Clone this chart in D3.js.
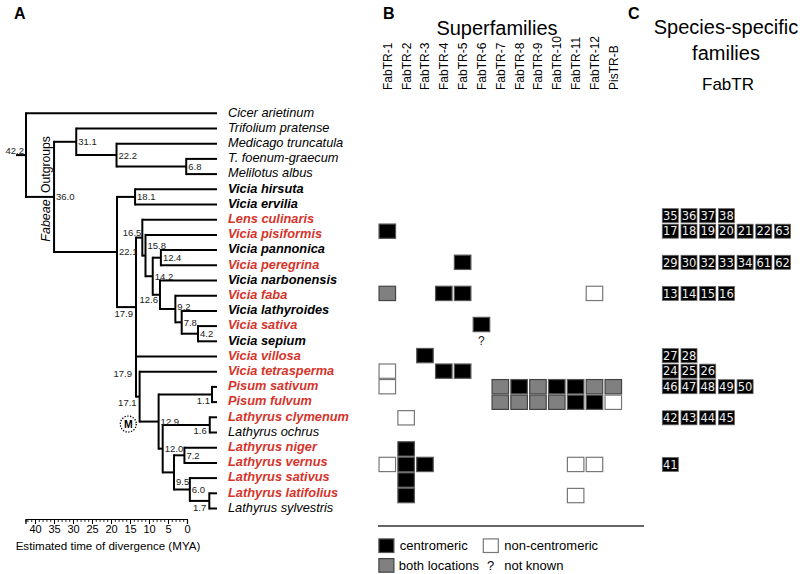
<!DOCTYPE html>
<html><head><meta charset="utf-8">
<script src="https://cdn.jsdelivr.net/npm/d3@7"></script>
<style>body{margin:0;background:#fff} svg{font-family:"Liberation Sans",Arial,sans-serif}</style>
</head><body><svg id="c" width="800" height="574"></svg>
<script>
// ---------------- DATA ----------------
const species = ["Cicer arietinum","Trifolium pratense","Medicago truncatula","T. foenum-graecum","Melilotus albus",
 "Vicia hirsuta","Vicia ervilia","Lens culinaris","Vicia pisiformis","Vicia pannonica","Vicia peregrina",
 "Vicia narbonensis","Vicia faba","Vicia lathyroides","Vicia sativa","Vicia sepium","Vicia villosa",
 "Vicia tetrasperma","Pisum sativum","Pisum fulvum","Lathyrus clymenum","Lathyrus ochrus","Lathyrus niger",
 "Lathyrus vernus","Lathyrus sativus","Lathyrus latifolius","Lathyrus sylvestris"];
const studiedSpecies = ["Lens culinaris","Vicia pisiformis","Vicia peregrina","Vicia faba","Vicia sativa","Vicia villosa",
 "Vicia tetrasperma","Pisum sativum","Pisum fulvum","Lathyrus clymenum","Lathyrus niger","Lathyrus vernus",
 "Lathyrus sativus","Lathyrus latifolius"];
const plainSpecies = ["Cicer arietinum","Trifolium pratense","Medicago truncatula","T. foenum-graecum","Melilotus albus",
 "Lathyrus ochrus","Lathyrus sylvestris"];
// internal nodes: [id, age (MYA), children]
const treeNodes = [
 ["n42.2",42.2,["Cicer arietinum","n36.0"]],
 ["n36.0",36.0,["n31.1","n22.1"]],
 ["n31.1",31.1,["Trifolium pratense","n22.2"]],
 ["n22.2",22.2,["Medicago truncatula","n6.8"]],
 ["n6.8",6.8,["T. foenum-graecum","Melilotus albus"]],
 ["n22.1",22.1,["n18.1","n17.9a"]],
 ["n18.1",18.1,["Vicia hirsuta","Vicia ervilia"]],
 ["n17.9a",17.9,["n16.5","n17.9b"]],
 ["n16.5",16.5,["Lens culinaris","n15.8"]],
 ["n15.8",15.8,["Vicia pisiformis","n14.2"]],
 ["n14.2",14.2,["n12.4","n12.6"]],
 ["n12.4",12.4,["Vicia pannonica","Vicia peregrina"]],
 ["n12.6",12.6,["Vicia narbonensis","n9.2"]],
 ["n9.2",9.2,["Vicia faba","n7.8"]],
 ["n7.8",7.8,["Vicia lathyroides","n4.2"]],
 ["n4.2",4.2,["Vicia sativa","Vicia sepium"]],
 ["n17.9b",17.9,["Vicia villosa","n17.1"]],
 ["n17.1",17.1,["Vicia tetrasperma","n12.9"]],
 ["n12.9",12.9,["n1.1","n12.0"]],
 ["n1.1",1.1,["Pisum sativum","Pisum fulvum"]],
 ["n12.0",12.0,["n1.6","n9.5"]],
 ["n1.6",1.6,["Lathyrus clymenum","Lathyrus ochrus"]],
 ["n9.5",9.5,["n7.2","n6.0"]],
 ["n7.2",7.2,["Lathyrus niger","Lathyrus vernus"]],
 ["n6.0",6.0,["Lathyrus sativus","n1.7"]],
 ["n1.7",1.7,["Lathyrus latifolius","Lathyrus sylvestris"]]
];
const superfamilies = ["FabTR-1","FabTR-2","FabTR-3","FabTR-4","FabTR-5","FabTR-6","FabTR-7","FabTR-8","FabTR-9",
 "FabTR-10","FabTR-11","FabTR-12","PisTR-B"];
// c = centromeric, n = non-centromeric, b = both locations, ? = not known
const locations = [
 ["Vicia pisiformis","FabTR-1","c"],
 ["Vicia peregrina","FabTR-5","c"],
 ["Vicia faba","FabTR-1","b"],["Vicia faba","FabTR-4","c"],["Vicia faba","FabTR-5","c"],["Vicia faba","FabTR-12","n"],
 ["Vicia sativa","FabTR-6","c"],
 ["Vicia sepium","FabTR-6","?"],
 ["Vicia villosa","FabTR-3","c"],
 ["Vicia tetrasperma","FabTR-1","n"],["Vicia tetrasperma","FabTR-4","c"],["Vicia tetrasperma","FabTR-5","c"],
 ["Pisum sativum","FabTR-1","n"],["Pisum sativum","FabTR-7","b"],["Pisum sativum","FabTR-8","c"],["Pisum sativum","FabTR-9","b"],
 ["Pisum sativum","FabTR-10","c"],["Pisum sativum","FabTR-11","c"],["Pisum sativum","FabTR-12","b"],["Pisum sativum","PisTR-B","b"],
 ["Pisum fulvum","FabTR-7","b"],["Pisum fulvum","FabTR-8","b"],["Pisum fulvum","FabTR-9","b"],["Pisum fulvum","FabTR-10","b"],
 ["Pisum fulvum","FabTR-11","c"],["Pisum fulvum","FabTR-12","c"],["Pisum fulvum","PisTR-B","n"],
 ["Lathyrus clymenum","FabTR-2","n"],
 ["Lathyrus niger","FabTR-2","c"],
 ["Lathyrus vernus","FabTR-1","n"],["Lathyrus vernus","FabTR-2","c"],["Lathyrus vernus","FabTR-3","c"],
 ["Lathyrus vernus","FabTR-11","n"],["Lathyrus vernus","FabTR-12","n"],
 ["Lathyrus sativus","FabTR-2","c"],
 ["Lathyrus latifolius","FabTR-2","c"],["Lathyrus latifolius","FabTR-11","n"]
];
const specificFamilies = [
 ["Lens culinaris",[35,36,37,38]],
 ["Vicia pisiformis",[17,18,19,20,21,22,63]],
 ["Vicia peregrina",[29,30,32,33,34,61,62]],
 ["Vicia faba",[13,14,15,16]],
 ["Vicia villosa",[27,28]],
 ["Vicia tetrasperma",[24,25,26]],
 ["Pisum sativum",[46,47,48,49,50]],
 ["Lathyrus clymenum",[42,43,44,45]],
 ["Lathyrus vernus",[41]]
];
const axisTicks = [40,35,30,25,20,15,10,5,0];
const legendItems = [["c","centromeric"],["n","non-centromeric"],["b","both locations"],["?","not known"]];

// ---------------- DRAW ----------------
const svg = d3.select("#c");
const red = "#d5342b";

const xT = d3.scaleLinear().domain([42.2,0]).range([26,217]);
const yT = d3.scaleLinear().domain([0,species.length-1]).range([113.3,508.5]);
const yG = d3.scaleLinear().domain([0,species.length-1]).range([106.8,511.1]);
const idx = s => species.indexOf(s);

// tree
const nodeMap = new Map(treeNodes.map(d=>[d[0],{id:d[0],age:d[1],children:d[2]}]));
const posY = {};
function getY(id){
  if(posY[id]!==undefined) return posY[id];
  if(!nodeMap.has(id)) return posY[id]=yT(idx(id));
  const ch = nodeMap.get(id).children.map(getY);
  return posY[id]=(ch[0]+ch[ch.length-1])/2;
}
const ageOf = id => nodeMap.has(id)?nodeMap.get(id).age:0;
const tree = svg.append("g").attr("stroke","#000").attr("stroke-width",2).attr("fill","none").attr("stroke-linecap","square");
treeNodes.forEach(([id,age,children])=>{
  const x = xT(age);
  const ys = children.map(getY);
  tree.append("line").attr("x1",x).attr("x2",x).attr("y1",d3.min(ys)).attr("y2",d3.max(ys));
  children.forEach(c=>{
    tree.append("line").attr("x1",x).attr("x2",xT(ageOf(c))).attr("y1",getY(c)).attr("y2",getY(c)).attr("stroke-linecap","butt");
  });
});
const rootId = treeNodes[0][0];
tree.append("line").attr("x1",xT(treeNodes[0][1])-10).attr("x2",xT(treeNodes[0][1])).attr("y1",getY(rootId)).attr("y2",getY(rootId)).attr("stroke-linecap","butt");

// node labels placement (anchor, dx, dy)
const labelPlace = {"n42.2":["end",-2,-5],"n16.5":["end",-1,-5],"n15.8":["start",2,-10],"n12.6":["end",-2,5],
 "n9.2":["start",2,-2],"n17.9a":["end",-3,6],"n17.9b":["end",-4,-3],"n17.1":["end",-3,6],"n1.1":["end",-2,6],
 "n1.6":["end",-3,6],"n1.7":["end",-3,7],"n9.5":["start",2,9]};
const nl = svg.append("g").attr("font-size",9.5).attr("fill","#222");
treeNodes.forEach(([id,age])=>{
  const p = labelPlace[id]||["start",2,0];
  nl.append("text").attr("x",xT(age)+p[1]).attr("y",getY(id)+p[2]+3.4).attr("text-anchor",p[0]).text(age.toFixed(1));
});

// species labels
svg.append("g").selectAll("text").data(species).join("text")
  .attr("x",228).attr("y",(d,i)=>yT(i)+3.2)
  .attr("font-size",12.8).attr("font-style","italic")
  .attr("font-weight",d=>plainSpecies.includes(d)?"normal":"bold")
  .attr("fill",d=>studiedSpecies.includes(d)?red:"#000")
  .text(d=>d);

// group labels
svg.append("text").attr("transform","translate(50,164.5) rotate(-90)").attr("text-anchor","middle").attr("font-size",12.2).text("Outgroups");
svg.append("text").attr("transform","translate(50,220.5) rotate(-90)").attr("text-anchor","middle").attr("font-size",12.5).attr("font-style","italic").text("Fabeae");

// M marker
const mNode = getY("n12.9");
svg.append("circle").attr("cx",128.3).attr("cy",mNode+2.5).attr("r",8).attr("fill","#fff").attr("stroke","#000").attr("stroke-width",1.3).attr("stroke-dasharray","1.3,1.5");
svg.append("text").attr("x",128.3).attr("y",mNode+6.3).attr("text-anchor","middle").attr("font-size",10.5).attr("font-weight","bold").text("M");

// time axis
const xA = d3.scaleLinear().domain([42.5,0]).range([25.5,187]);
const axG = svg.append("g").attr("transform","translate(0,519)");
axG.call(d3.axisBottom(xA).tickValues(d3.range(0,43,1)).tickSize(3).tickFormat(""));
axG.call(g=>g.selectAll(".tick line").attr("stroke-width",0.8));
const axG2 = svg.append("g").attr("transform","translate(0,519)");
axG2.call(d3.axisBottom(xA).tickValues(axisTicks).tickSize(5).tickPadding(1).tickFormat(d3.format("d")));
axG2.selectAll("text").attr("font-size",11).attr("font-family","Liberation Sans, Arial, sans-serif").attr("fill","#000");
axG2.select(".domain").attr("stroke-width",1.2);
svg.append("text").attr("x",108).attr("y",550).attr("text-anchor","middle").attr("font-size",11.6).text("Estimated time of divergence (MYA)");

// superfamilies grid
const xG = d3.scalePoint().domain(superfamilies).range([387.3,613.3]);
const cellW = 16.5, cellH = 14.3;
const fillOf = {c:"#000",b:"#808080",n:"#fff"};
const strokeOf = {c:"#555",b:"#444",n:"#777"};
svg.append("text").attr("x",497).attr("y",34.5).attr("text-anchor","middle").attr("font-size",20).text("Superfamilies");
svg.append("g").selectAll("text").data(superfamilies).join("text")
  .attr("transform",d=>`translate(${xG(d)+4.5},90) rotate(-90)`)
  .attr("font-size",12).text(d=>d);
const gc = svg.append("g");
locations.filter(d=>d[2]!=="?").forEach(([s,f,t])=>{
  gc.append("rect").attr("x",xG(f)-cellW/2).attr("y",yG(idx(s))-cellH/2).attr("width",cellW).attr("height",cellH)
    .attr("fill",fillOf[t]).attr("stroke",strokeOf[t]).attr("stroke-width",1.2);
});
locations.filter(d=>d[2]==="?").forEach(([s,f])=>{
  gc.append("text").attr("x",xG(f)).attr("y",yG(idx(s))+4.5).attr("text-anchor","middle").attr("font-size",12).attr("fill","#222").text("?");
});

// species-specific families
svg.append("text").attr("x",726).attr("y",34).attr("text-anchor","middle").attr("font-size",20).text("Species-specific");
svg.append("text").attr("x",726).attr("y",60).attr("text-anchor","middle").attr("font-size",20).text("families");
svg.append("text").attr("x",728).attr("y",90).attr("text-anchor","middle").attr("font-size",17).text("FabTR");
const xC = d3.scaleLinear().domain([0,1]).range([670.3,689]);
const gC = svg.append("g");
specificFamilies.forEach(([s,nums])=>{
  nums.forEach((n,j)=>{
    const cx = xC(j), cy = yG(idx(s));
    gC.append("rect").attr("x",cx-8).attr("y",cy-7).attr("width",16).attr("height",14).attr("fill","#000").attr("stroke","#666").attr("stroke-width",0.8);
    gC.append("text").attr("x",cx).attr("y",cy+4.2).attr("text-anchor","middle").attr("font-size",11.5).attr("font-family","DejaVu Sans, sans-serif").attr("fill","#eee").text(n);
  });
});

// legend
svg.append("line").attr("x1",378).attr("x2",644).attr("y1",526).attr("y2",526).attr("stroke","#666").attr("stroke-width",1.8);
const legPos = [[378.3,538.3],[482.7,538.3],[378.3,558],[482.7,558]];
legendItems.forEach(([t,label],k)=>{
  const [lx,ly] = legPos[k];
  if(t!=="?"){
    svg.append("rect").attr("x",lx+0.6).attr("y",ly+0.6).attr("width",15).attr("height",13.6).attr("fill",fillOf[t]).attr("stroke",strokeOf[t]).attr("stroke-width",1.2);
  } else {
    svg.append("text").attr("x",lx+8).attr("y",ly+12).attr("text-anchor","middle").attr("font-size",13).text("?");
  }
  svg.append("text").attr("x",lx+(k===2?20.5:21.5)).attr("y",ly+11.8).attr("font-size",13).text(label);
});

// panel letters
[["A",14],["B",383],["C",628]].forEach(([l,x])=>{
  svg.append("text").attr("x",x).attr("y",19).attr("font-size",16).attr("font-weight","bold").text(l);
});
</script></body></html>
